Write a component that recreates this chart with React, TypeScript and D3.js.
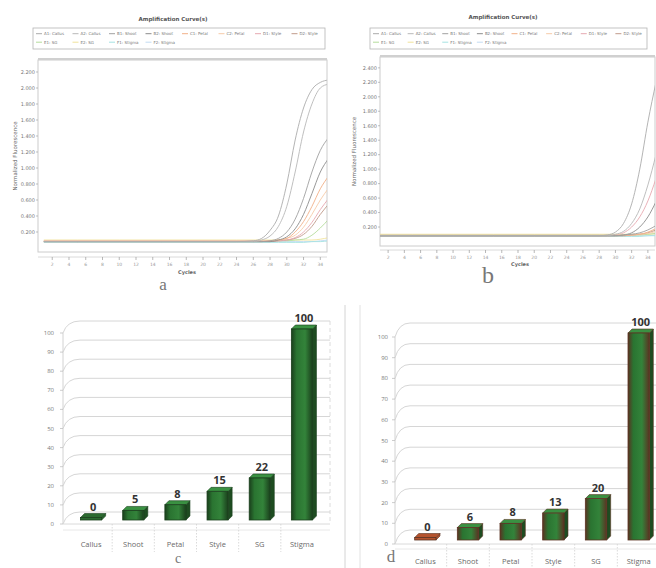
import React from "react";
import * as d3 from "d3";

// ---------- DATA ----------
const cycles = [1, 5, 10, 15, 20, 24, 26, 27, 28, 29, 30, 31, 32, 33, 34, 35];
const wellNames = [
  "A1: Callus", "A2: Callus", "B1: Shoot", "B2: Shoot", "C1: Petal", "C2: Petal",
  "D1: Style", "D2: Style", "E1: SG", "E2: SG", "F1: Stigma", "F2: Stigma",
];
const curveColors = [
  "#ababab", "#b8b8b8", "#a0a0a0", "#8c8c8c", "#f2b088", "#f6cba8",
  "#e6a8b0", "#c09a8a", "#b4dc9c", "#f0e29a", "#a6e2e2", "#c2dbf2",
];
const curvesA = [
  [0.08, 0.08, 0.08, 0.08, 0.08, 0.08, 0.09, 0.12, 0.22, 0.4, 0.8, 1.35, 1.75, 1.98, 2.07, 2.1],
  [0.08, 0.08, 0.08, 0.08, 0.08, 0.08, 0.08, 0.1, 0.15, 0.27, 0.52, 0.95, 1.45, 1.8, 2.0, 2.05],
  [0.08, 0.08, 0.08, 0.08, 0.08, 0.08, 0.08, 0.08, 0.09, 0.12, 0.2, 0.36, 0.62, 0.95, 1.22, 1.38],
  [0.08, 0.08, 0.08, 0.08, 0.08, 0.08, 0.08, 0.08, 0.08, 0.1, 0.14, 0.24, 0.42, 0.68, 0.95, 1.12],
  [0.08, 0.08, 0.08, 0.08, 0.08, 0.08, 0.08, 0.08, 0.09, 0.1, 0.12, 0.2, 0.33, 0.52, 0.74, 0.9],
  [0.09, 0.09, 0.09, 0.09, 0.09, 0.09, 0.09, 0.09, 0.09, 0.1, 0.12, 0.16, 0.26, 0.42, 0.6, 0.75],
  [0.09, 0.09, 0.09, 0.09, 0.09, 0.09, 0.09, 0.09, 0.09, 0.09, 0.1, 0.13, 0.2, 0.32, 0.48, 0.62],
  [0.08, 0.08, 0.08, 0.08, 0.08, 0.08, 0.08, 0.08, 0.08, 0.09, 0.1, 0.12, 0.17, 0.27, 0.42, 0.55],
  [0.09, 0.09, 0.09, 0.09, 0.09, 0.09, 0.09, 0.09, 0.09, 0.09, 0.09, 0.1, 0.11, 0.16, 0.25, 0.36],
  [0.1, 0.1, 0.1, 0.1, 0.1, 0.1, 0.1, 0.1, 0.1, 0.1, 0.1, 0.1, 0.1, 0.1, 0.11, 0.13],
  [0.07, 0.07, 0.07, 0.07, 0.07, 0.07, 0.07, 0.07, 0.07, 0.07, 0.07, 0.07, 0.07, 0.08, 0.08, 0.09],
  [0.08, 0.08, 0.08, 0.08, 0.08, 0.08, 0.08, 0.08, 0.08, 0.08, 0.08, 0.08, 0.08, 0.08, 0.09, 0.1],
];
const curvesB = [
  [0.08, 0.08, 0.08, 0.08, 0.08, 0.08, 0.08, 0.08, 0.08, 0.09, 0.13, 0.25, 0.52, 1.0, 1.65, 2.2],
  [0.08, 0.08, 0.08, 0.08, 0.08, 0.08, 0.08, 0.08, 0.08, 0.08, 0.1, 0.14, 0.25, 0.45, 0.78, 1.2],
  [0.08, 0.08, 0.08, 0.08, 0.08, 0.08, 0.08, 0.08, 0.08, 0.08, 0.08, 0.09, 0.1, 0.12, 0.16, 0.22],
  [0.08, 0.08, 0.08, 0.08, 0.08, 0.08, 0.08, 0.08, 0.08, 0.08, 0.08, 0.09, 0.12, 0.2, 0.34, 0.55],
  [0.08, 0.08, 0.08, 0.08, 0.08, 0.08, 0.08, 0.08, 0.08, 0.08, 0.08, 0.08, 0.09, 0.1, 0.13, 0.18],
  [0.09, 0.09, 0.09, 0.09, 0.09, 0.09, 0.09, 0.09, 0.09, 0.09, 0.09, 0.09, 0.09, 0.1, 0.11, 0.14],
  [0.08, 0.08, 0.08, 0.08, 0.08, 0.08, 0.08, 0.08, 0.08, 0.08, 0.09, 0.12, 0.2, 0.34, 0.56, 0.87],
  [0.08, 0.08, 0.08, 0.08, 0.08, 0.08, 0.08, 0.08, 0.08, 0.08, 0.08, 0.08, 0.09, 0.1, 0.12, 0.16],
  [0.09, 0.09, 0.09, 0.09, 0.09, 0.09, 0.09, 0.09, 0.09, 0.09, 0.09, 0.09, 0.09, 0.09, 0.1, 0.11],
  [0.1, 0.1, 0.1, 0.1, 0.1, 0.1, 0.1, 0.1, 0.1, 0.1, 0.1, 0.1, 0.1, 0.1, 0.1, 0.11],
  [0.07, 0.07, 0.07, 0.07, 0.07, 0.07, 0.07, 0.07, 0.07, 0.07, 0.07, 0.07, 0.07, 0.07, 0.08, 0.08],
  [0.08, 0.08, 0.08, 0.08, 0.08, 0.08, 0.08, 0.08, 0.08, 0.08, 0.08, 0.08, 0.08, 0.08, 0.08, 0.09],
];
const cycleTicks = [2, 4, 6, 8, 10, 12, 14, 16, 18, 20, 22, 24, 26, 28, 30, 32, 34];
const fluorTicksA = [0.2, 0.4, 0.6, 0.8, 1.0, 1.2, 1.4, 1.6, 1.8, 2.0, 2.2];
const fluorTicksB = [0.2, 0.4, 0.6, 0.8, 1.0, 1.2, 1.4, 1.6, 1.8, 2.0, 2.2, 2.4];

const categories = ["Callus", "Shoot", "Petal", "Style", "SG", "Stigma"];
const valuesC = [0, 5, 8, 15, 22, 100];
const valuesD = [0, 6, 8, 13, 20, 100];
const percentTicks = [0, 10, 20, 30, 40, 50, 60, 70, 80, 90, 100];

// ---------- AMPLIFICATION PANEL ----------
type AmpCfg = {
  id: string; titleX: number; titleY: number; legX: number; legY: number; legW: number; legH: number;
  fL: number; fT: number; fR: number; fB: number; xDom: [number, number]; xRng: [number, number];
  yDom: [number, number]; yRng: [number, number]; axisY: number; tickLabY: number;
  cycX: number; cycY: number; letter: string; letX: number; letY: number; letSize: number;
  yTitleX: number; yTicks: number[]; curves: number[][];
};

function AmpPanel({ c }: { c: AmpCfg }) {
  const x = d3.scaleLinear().domain(c.xDom).range(c.xRng);
  const y = d3.scaleLinear().domain(c.yDom).range(c.yRng);
  const line = d3.line<number>().x((_, i) => x(cycles[i])).y((v) => y(v)).curve(d3.curveMonotoneX);
  const fmt = d3.format(".3f");
  const perRow = 8;
  const entryW = c.legW / perRow;
  const order = c.curves.map((_, i) => i).reverse();
  return (
    <g>
      <defs>
        <clipPath id={"clip" + c.id}>
          <rect x={c.fL} y={c.fT} width={c.fR - c.fL} height={c.fB - c.fT} />
        </clipPath>
      </defs>
      <text x={c.titleX} y={c.titleY} fontSize={5.5} fontWeight="bold" textAnchor="middle" fill="#555" fontFamily="DejaVu Sans">
        Amplification Curve(s)
      </text>
      <rect x={c.legX} y={c.legY} width={c.legW} height={c.legH} fill="#fff" stroke="#b4b4b4" strokeWidth={0.8} />
      {wellNames.map((n, i) => {
        const row = Math.floor(i / perRow);
        const col = i % perRow;
        const ex = c.legX + 3 + col * entryW;
        const ey = c.legY + 7 + row * 8.5;
        return (
          <g key={n}>
            <line x1={ex} x2={ex + 6} y1={ey - 1.3} y2={ey - 1.3} stroke={curveColors[i]} strokeWidth={1} />
            <text x={ex + 8} y={ey} fontSize={4} fill="#777" fontFamily="DejaVu Sans">{n}</text>
          </g>
        );
      })}
      <rect x={c.fL} y={c.fT} width={c.fR - c.fL} height={c.fB - c.fT} fill="#fff" stroke="#cccccc" strokeWidth={1} />
      <line x1={c.fL} x2={c.fR} y1={c.fT - 1} y2={c.fT - 1} stroke="#d0d0d0" strokeWidth={2} />
      <g clipPath={`url(#clip${c.id})`}>
        {order.map((i) => (
          <path key={i} d={line(c.curves[i]) || ""} fill="none" stroke={curveColors[i]} strokeWidth={0.9} />
        ))}
      </g>
      {c.yTicks.map((t) => (
        <g key={t}>
          <line x1={c.fL - 2} x2={c.fL} y1={y(t)} y2={y(t)} stroke="#999" strokeWidth={0.6} />
          <text x={c.fL - 3} y={y(t) + 1.8} fontSize={5} textAnchor="end" fill="#777" fontFamily="DejaVu Sans">{fmt(t)}</text>
        </g>
      ))}
      <text transform={`translate(${c.yTitleX},${(c.fT + c.fB) / 2}) rotate(-90)`} fontSize={5.5} textAnchor="middle" fill="#666" fontFamily="DejaVu Sans">
        Normalized Fluorescence
      </text>
      <line x1={c.fL} x2={c.fR} y1={c.axisY} y2={c.axisY} stroke="#d0d0d0" strokeWidth={0.8} />
      {cycleTicks.map((t) => (
        <g key={t}>
          <line x1={x(t)} x2={x(t)} y1={c.axisY} y2={c.axisY + 3} stroke="#999" strokeWidth={0.7} />
          <text x={x(t)} y={c.tickLabY} fontSize={4.5} textAnchor="middle" fill="#999" fontFamily="DejaVu Sans">{t}</text>
        </g>
      ))}
      <text x={c.cycX} y={c.cycY} fontSize={5} fontWeight="bold" textAnchor="middle" fill="#666" fontFamily="DejaVu Sans">Cycles</text>
      <text x={c.letX} y={c.letY} fontSize={c.letSize} textAnchor="middle" fill="#777" fontFamily="Liberation Serif">{c.letter}</text>
    </g>
  );
}

// ---------- BAR PANEL ----------
type BarCfg = {
  id: string; values: number[]; xRng: [number, number]; yRng: [number, number];
  wallX: number; backX: number; backDy: number; rightX: number; rightWall: boolean; labX: number;
  catTop: number; catY: number; letter: string; letX: number; letY: number; letSize: number;
  edge: string; firstFill: string;
};

function BarPanel({ c }: { c: BarCfg }) {
  const x = d3.scaleBand<string>().domain(categories).range(c.xRng).paddingInner(0.5).paddingOuter(0.25);
  const y = d3.scaleLinear().domain([0, 100]).range(c.yRng);
  const w = x.bandwidth();
  const dx = 4, dy = 4, lift = 4;
  const step = x.step();
  return (
    <g>
      <defs>
        <linearGradient id={"grad" + c.id} x1="0" x2="1" y1="0" y2="0">
          <stop offset="0%" stopColor={c.edge} />
          <stop offset="25%" stopColor="#2a7431" />
          <stop offset="65%" stopColor="#33833a" />
          <stop offset="100%" stopColor={c.edge} />
        </linearGradient>
      </defs>
      <line x1={c.wallX} x2={c.wallX} y1={y(100)} y2={y(0)} stroke="#d2d2d2" strokeWidth={1} />
      {c.rightWall && (
        <line x1={c.rightX} x2={c.rightX} y1={y(100) - c.backDy} y2={y(0)} stroke="#dcdcdc" strokeDasharray="4,3" strokeWidth={1} />
      )}
      {percentTicks.map((t) => (
        <g key={t}>
          <path
            d={`M${c.wallX},${y(t)} Q${c.wallX + 4},${y(t) - c.backDy} ${c.backX},${y(t) - c.backDy} L${c.rightX},${y(t) - c.backDy}`}
            fill="none" stroke="#d6d6d6" strokeWidth={1}
          />
          <line x1={c.wallX - 3} x2={c.wallX} y1={y(t)} y2={y(t)} stroke="#c0c0c0" strokeWidth={0.8} />
          <text x={c.labX} y={y(t) + 2} fontSize={6} textAnchor="end" fill="#7a7a7a" fontFamily="Open Sans">{t}</text>
        </g>
      ))}
      <line x1={c.wallX} x2={c.rightX} y1={y(0)} y2={y(0)} stroke="#dadada" strokeWidth={1} />
      <line x1={c.wallX} x2={c.rightX} y1={c.catTop} y2={c.catTop} stroke="#e2e2e2" strokeWidth={0.8} />
      {categories.map((cat, i) => {
        const cx = (x(cat) as number) + w / 2;
        return (
          <g key={cat}>
            {i > 0 && (
              <line x1={cx - step / 2} x2={cx - step / 2} y1={y(0)} y2={c.catTop + 22} stroke="#d0d0d0" strokeDasharray="1.5,1.5" strokeWidth={0.8} />
            )}
            <text x={cx} y={c.catY} fontSize={7.5} textAnchor="middle" fill="#6a6a6a" fontFamily="Open Sans">{cat}</text>
          </g>
        );
      })}
      {c.values.map((v, i) => {
        const x0 = x(categories[i]) as number;
        const bottom = y(0) - lift;
        const top = Math.min(y(v) - lift, bottom - 2.5);
        const first = i === 0;
        const fill = first ? c.firstFill : `url(#grad${c.id})`;
        return (
          <g key={categories[i]}>
            <path d={`M${x0 + w},${top} L${x0 + w + dx},${top - dy} L${x0 + w + dx},${bottom - dy} L${x0 + w},${bottom} Z`} fill={first ? c.firstFill : "#1e4c21"} stroke={c.edge} strokeWidth={0.6} />
            <path d={`M${x0},${top} L${x0 + dx},${top - dy} L${x0 + w + dx},${top - dy} L${x0 + w},${top} Z`} fill={first ? c.firstFill : "#3a9142"} stroke={c.edge} strokeWidth={0.6} />
            <rect x={x0} y={top} width={w} height={bottom - top} fill={fill} stroke={c.edge} strokeWidth={0.8} />
            <text x={x0 + w / 2 + 2} y={top - dy - 3} fontSize={11} fontWeight="bold" textAnchor="middle" fill="#333" fontFamily="Open Sans">{v}</text>
          </g>
        );
      })}
      <text x={c.letX} y={c.letY} fontSize={c.letSize} textAnchor="middle" fill="#777" fontFamily="Liberation Serif">{c.letter}</text>
    </g>
  );
}

const ampA: AmpCfg = {
  id: "a", titleX: 173, titleY: 21, legX: 33, legY: 28, legW: 292, legH: 21,
  fL: 38, fT: 60, fR: 327, fB: 252, xDom: [0.3, 34.8], xRng: [38, 327],
  yDom: [0, 2.35], yRng: [248, 60], axisY: 257, tickLabY: 266, cycX: 187, cycY: 274,
  letter: "a", letX: 163, letY: 290, letSize: 17, yTitleX: 17, yTicks: fluorTicksA, curves: curvesA,
};
const ampB: AmpCfg = {
  id: "b", titleX: 503, titleY: 19, legX: 370, legY: 28, legW: 277, legH: 21,
  fL: 380, fT: 57, fR: 655, fB: 246, xDom: [1, 35], xRng: [380, 656],
  yDom: [0, 2.55], yRng: [241.5, 57], axisY: 250, tickLabY: 259, cycX: 520, cycY: 266,
  letter: "b", letX: 488, letY: 283, letSize: 24, yTitleX: 356, yTicks: fluorTicksB, curves: curvesB,
};
const barC: BarCfg = {
  id: "c", values: valuesC, xRng: [70, 323], yRng: [524, 333], wallX: 63, backX: 80, backDy: 12,
  rightX: 330, rightWall: true, labX: 54, catTop: 530, catY: 547, letter: "c", letX: 178, letY: 563, letSize: 14,
  edge: "#1a3f1c", firstFill: "#2b6a30",
};
const barD: BarCfg = {
  id: "d", values: valuesD, xRng: [404, 660], yRng: [544, 337], wallX: 395, backX: 410, backDy: 14,
  rightX: 656, rightWall: false, labX: 388, catTop: 549, catY: 564, letter: "d", letX: 391, letY: 562, letSize: 17,
  edge: "#5a3322", firstFill: "#b4532e",
};

export default function App() {
  return (
    <svg width={656} height={568} viewBox="0 0 656 568" style={{ position: "absolute", left: 0, top: 0, background: "#fff" }}>
      <rect x={0} y={0} width={656} height={568} fill="#fff" />
      <AmpPanel c={ampA} />
      <AmpPanel c={ampB} />
      <line x1={345} x2={345} y1={305} y2={568} stroke="#d4d4d4" strokeWidth={1} />
      <line x1={360} x2={360} y1={305} y2={568} stroke="#e2e2e2" strokeWidth={1} />
      <BarPanel c={barC} />
      <BarPanel c={barD} />
    </svg>
  );
}
